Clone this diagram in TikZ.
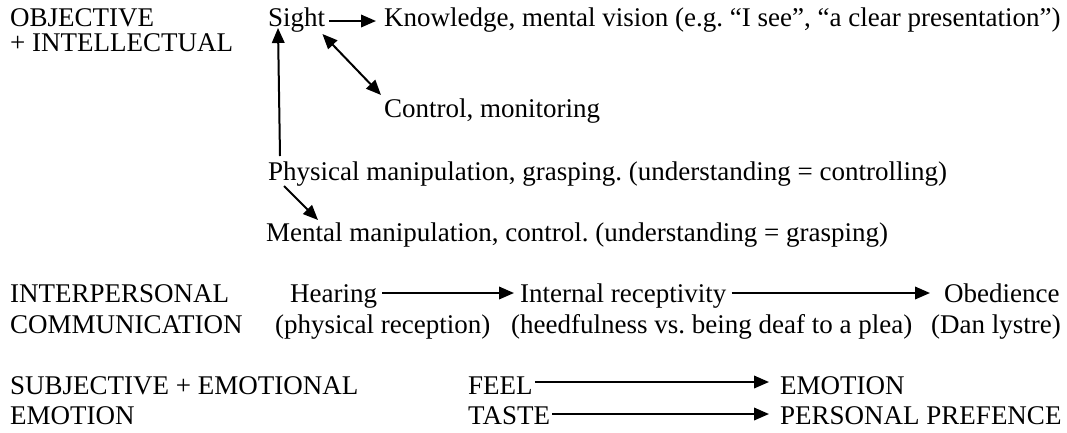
\documentclass[tikz,border=0pt]{standalone}
\usepackage{fontspec}
\setmainfont{Liberation Serif}
\usetikzlibrary{arrows.meta}
\begin{document}
\frenchspacing
\begin{tikzpicture}[x=1pt,y=-1pt,
  txt/.style={anchor=base west,inner sep=0pt,font=\fontsize{27}{30}\selectfont},
  arr/.style={line width=2pt,-{Triangle[length=15pt,width=12.5pt]}},
  darr/.style={line width=2pt,{Triangle[length=15pt,width=12.5pt]}-{Triangle[length=15pt,width=12.5pt]}}]
\useasboundingbox (0,0) rectangle (1067,432);
\node[txt] (obj) at (10,26) {\def\arraystretch{0.8}\begin{tabular}[t]{@{}l@{}}OBJECTIVE\\+ INTELLECTUAL\end{tabular}};
\node[txt] (sight) at (268,26) {Sight};
\node[txt] (know) at (384,26) {Knowledge, mental vision (e.g. “I see”, “a clear presentation”)};
\node[txt] (ctrl) at (384,117) {Control, monitoring};
\node[txt] (phys) at (268,180) {Physical manipulation, grasping. (understanding = controlling)};
\node[txt] (ment) at (266,241) {Mental manipulation, control. (understanding = grasping)};
\node[txt] (inter) at (10,302) {INTERPERSONAL};
\node[txt] (comm) at (10,333) {COMMUNICATION};
\node[txt] (hear) at (290,302) {Hearing};
\node[txt] (physrec) at (275,333) {(physical reception)};
\node[txt] (intrec) at (520,302) {Internal receptivity};
\node[txt] (heed) at (511,333) {(heedfulness vs. being deaf to a plea)};
\node[txt] (obed) at (944,302) {Obedience};
\node[txt] (dan) at (931,333) {(Dan lystre)};
\node[txt] (subj) at (10,394) {SUBJECTIVE + EMOTIONAL};
\node[txt] (emo) at (10,424) {EMOTION};
\node[txt] (feel) at (468,394) {FEEL};
\node[txt] (taste) at (468,424) {TASTE};
\node[txt] (emotion) at (780,394) {EMOTION};
\node[txt] (pref) at (780,424) {PERSONAL PREFENCE};
\draw[arr] ([xshift=4pt,yshift=5pt]sight.base east) -- ([xshift=-8pt,yshift=5pt]know.base west);
\draw[darr] ([xshift=-3pt,yshift=-8pt]sight.base east) -- ([xshift=-3pt,yshift=22pt]ctrl.base west);
\draw[arr] ([xshift=12pt,yshift=24pt]phys.base west) -- ([xshift=10pt,yshift=-2pt]sight.base west);
\draw[arr] ([xshift=16pt,yshift=-6pt]phys.base west) -- ([xshift=52pt,yshift=21pt]ment.base west);
\draw[arr] ([xshift=5pt,yshift=9pt]hear.base east) -- ([xshift=-6pt,yshift=9pt]intrec.base west);
\draw[arr] ([xshift=5pt,yshift=9pt]intrec.base east) -- ([xshift=-14pt,yshift=9pt]obed.base west);
\draw[arr] ([xshift=2pt,yshift=12pt]feel.base east) -- ([xshift=-11pt,yshift=12pt]emotion.base west);
\draw[arr] ([xshift=2pt,yshift=10pt]taste.base east) -- ([xshift=-11pt,yshift=10pt]pref.base west);
\end{tikzpicture}
\end{document}
